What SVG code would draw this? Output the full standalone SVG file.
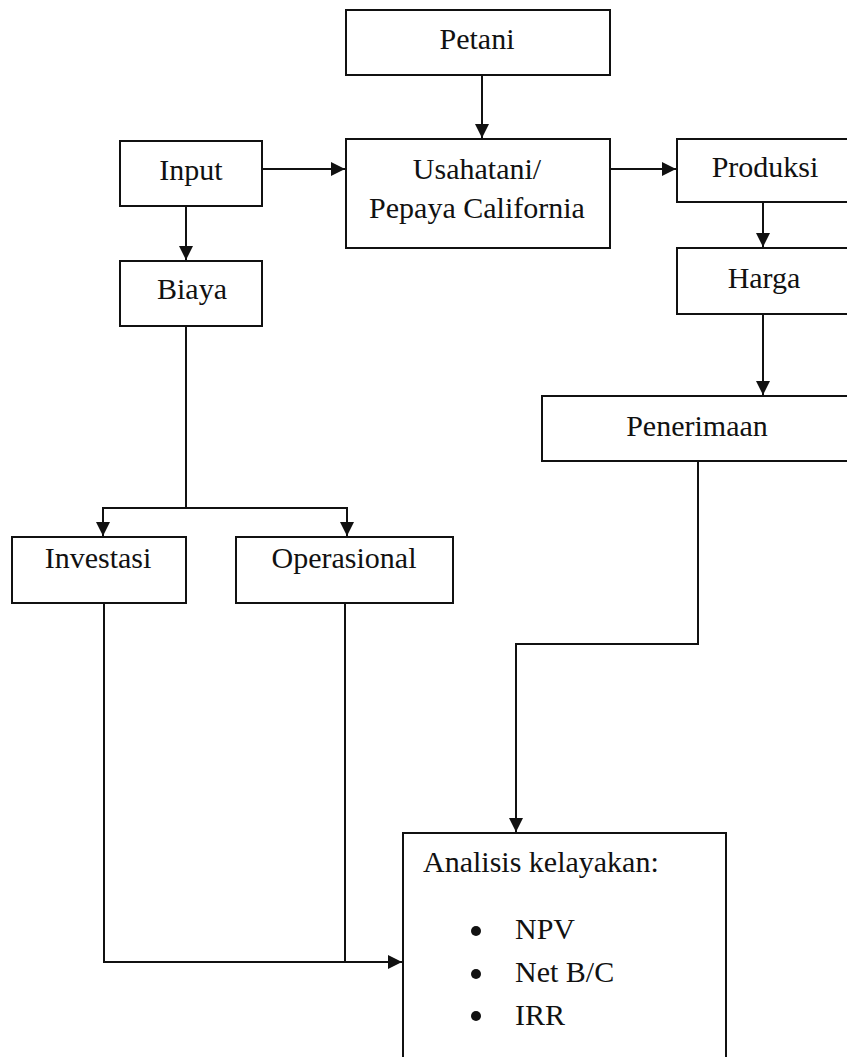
<svg xmlns="http://www.w3.org/2000/svg" width="847" height="1057" viewBox="0 0 847 1057">
<style>
.box{fill:#fff;stroke:#111;stroke-width:2}
.t{font-family:"Liberation Serif","Times New Roman",serif;font-size:30px;fill:#111}
.c{text-anchor:middle}
.ln{fill:none;stroke:#111;stroke-width:2}
</style>
<defs>
<marker id="ah" markerUnits="userSpaceOnUse" markerWidth="16" markerHeight="16" viewBox="0 0 16 16" refX="15" refY="8" orient="auto">
<path d="M1,1 L15,8 L1,15 Z" fill="#111"/>
</marker>
</defs>
<rect width="847" height="1057" fill="#fff"/>
<g id="connectors">
<path class="ln" d="M482,75 V138" marker-end="url(#ah)"/>
<path class="ln" d="M262,169 H345" marker-end="url(#ah)"/>
<path class="ln" d="M610,169 H676" marker-end="url(#ah)"/>
<path class="ln" d="M186,206 V260" marker-end="url(#ah)"/>
<path class="ln" d="M763,202 V247" marker-end="url(#ah)"/>
<path class="ln" d="M763,314 V395" marker-end="url(#ah)"/>
<path class="ln" d="M186,326 V508"/>
<path class="ln" d="M186,508 H103 V536" marker-end="url(#ah)"/>
<path class="ln" d="M186,508 H347 V536" marker-end="url(#ah)"/>
<path class="ln" d="M698,461 V644 H516 V832" marker-end="url(#ah)"/>
<path class="ln" d="M104,603 V962 H402" marker-end="url(#ah)"/>
<path class="ln" d="M345,603 V962"/>
</g>
<g id="petani"><rect class="box" x="346" y="10" width="264" height="65"/><text class="t c" x="477" y="49">Petani</text></g>
<g id="input"><rect class="box" x="120" y="141" width="142" height="65"/><text class="t c" x="191" y="180">Input</text></g>
<g id="usahatani"><rect class="box" x="346" y="139" width="264" height="109"/><text class="t c" x="477" y="179">Usahatani/</text><text class="t c" x="477" y="218">Pepaya California</text></g>
<g id="produksi"><rect class="box" x="677" y="139" width="175" height="63"/><text class="t c" x="765" y="177">Produksi</text></g>
<g id="biaya"><rect class="box" x="120" y="261" width="142" height="65"/><text class="t c" x="192" y="299">Biaya</text></g>
<g id="harga"><rect class="box" x="677" y="248" width="175" height="66"/><text class="t c" x="764" y="288">Harga</text></g>
<g id="penerimaan"><rect class="box" x="542" y="396" width="310" height="65"/><text class="t c" x="697" y="436">Penerimaan</text></g>
<g id="investasi"><rect class="box" x="12" y="537" width="174" height="66"/><text class="t c" x="98" y="568">Investasi</text></g>
<g id="operasional"><rect class="box" x="236" y="537" width="217" height="66"/><text class="t c" x="344" y="568">Operasional</text></g>
<g id="analisis"><rect class="box" x="403" y="833" width="323" height="240"/>
<text class="t" x="423" y="872">Analisis kelayakan:</text>
<circle cx="476" cy="931" r="5" fill="#111"/><text class="t" x="515" y="939">NPV</text>
<circle cx="476" cy="974" r="5" fill="#111"/><text class="t" x="515" y="982">Net B/C</text>
<circle cx="476" cy="1016" r="5" fill="#111"/><text class="t" x="515" y="1025">IRR</text>
</g>
</svg>
